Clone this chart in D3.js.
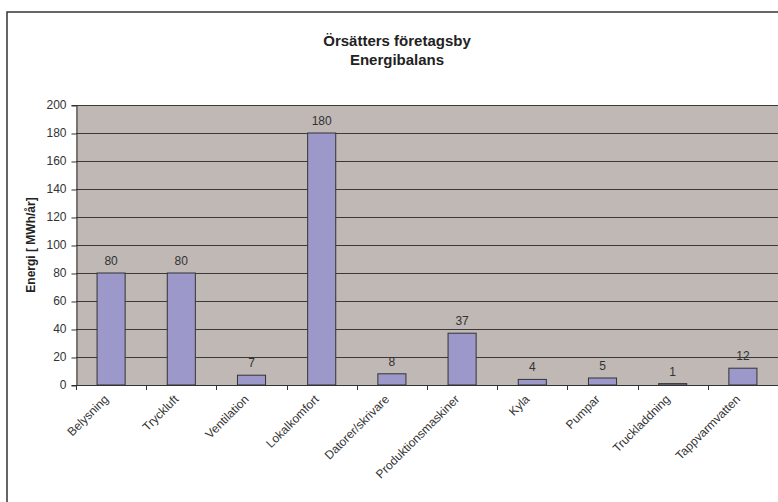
<!DOCTYPE html>
<html>
<head>
<meta charset="utf-8">
<script src="https://cdn.jsdelivr.net/npm/d3@7"></script>
<style>
  body { margin: 0; background: #fff; }
  svg { display: block; font-family: "Liberation Sans", Arial, sans-serif; }
  .tick text { fill: #333; font-size: 12px; }
</style>
</head>
<body>
<svg id="chart" width="778" height="502"></svg>
<script>
// Energy use per category (MWh/år)
const categories = ['Belysning', 'Tryckluft', 'Ventilation', 'Lokalkomfort', 'Datorer/skrivare',
  'Produktionsmaskiner', 'Kyla', 'Pumpar', 'Truckladdning', 'Tappvarmvatten'];
const values = [80, 80, 7, 180, 8, 37, 4, 5, 1, 12];
const yTicks = [0, 20, 40, 60, 80, 100, 120, 140, 160, 180, 200];
const titleLines = ['Örsätters företagsby', 'Energibalans'];
const yLabel = 'Energi [ MWh/år]';

const data = categories.map((c, i) => ({ category: c, value: values[i] }));

const margin = { left: 76, top: 105, right: 0, bottom: 117 };
const WIDTH = 778, HEIGHT = 502;

const svg = d3.select('#chart');

// chart area frame (runs off the right and bottom edges)
svg.append('rect')
  .attr('x', 7).attr('y', 12)
  .attr('width', 820).attr('height', 560)
  .attr('fill', '#fff')
  .attr('stroke', '#333')
  .attr('stroke-width', 1.5);

/*
 * Scales
 */
const scale = {};
scale.x = d3.scaleBand()
  .domain(categories)
  .range([margin.left, WIDTH - margin.right])
  .paddingInner(0.6)
  .paddingOuter(0.3);

// band edges for the tick marks between categories
const step = scale.x.step();
const bandStart = c => scale.x(c) - scale.x.paddingInner() * step / 2;

scale.y = d3.scaleLinear()
  .domain([0, 200])
  .range([HEIGHT - margin.bottom, margin.top]);

// plot background
svg.append('rect')
  .attr('x', margin.left)
  .attr('y', margin.top)
  .attr('width', WIDTH - margin.right - margin.left)
  .attr('height', scale.y(0) - margin.top)
  .attr('fill', '#c0b8b5');

// gridlines
svg.append('g')
  .selectAll('line')
  .data(yTicks.filter(t => t > 0))
  .join('line')
  .attr('x1', margin.left)
  .attr('x2', WIDTH - margin.right)
  .attr('y1', d => Math.round(scale.y(d)) + 0.5)
  .attr('y2', d => Math.round(scale.y(d)) + 0.5)
  .attr('stroke', '#3a3a3a')
  .attr('stroke-width', 1);

// bars
svg.append('g')
  .selectAll('rect')
  .data(data)
  .join('rect')
  .attr('x', d => scale.x(d.category))
  .attr('y', d => scale.y(d.value))
  .attr('width', scale.x.bandwidth())
  .attr('height', d => scale.y(0) - scale.y(d.value))
  .attr('fill', '#9c98c9')
  .attr('stroke', '#333')
  .attr('stroke-width', 1);

// value labels
svg.append('g')
  .selectAll('text')
  .data(data)
  .join('text')
  .attr('x', d => scale.x(d.category) + scale.x.bandwidth() / 2)
  .attr('y', d => scale.y(d.value) - 8)
  .attr('text-anchor', 'middle')
  .attr('font-size', 12)
  .attr('fill', '#333')
  .text(d => d.value);

/*
 * Axes
 */
const axisY = d3.axisLeft(scale.y)
  .tickValues(yTicks)
  .tickSize(5)
  .tickPadding(5);

svg.append('g')
  .attr('transform', `translate(${margin.left + 0.5}, 0)`)
  .call(axisY)
  .call(g => g.selectAll('line, path').attr('stroke', '#333'))
  .call(g => g.selectAll('.tick line').attr('transform', 'translate(0,0.5)'));

// x axis: line plus ticks at band boundaries
const xAxis = svg.append('g');
xAxis.append('line')
  .attr('x1', margin.left).attr('x2', WIDTH)
  .attr('y1', scale.y(0) + 0.5).attr('y2', scale.y(0) + 0.5)
  .attr('stroke', '#333');
xAxis.selectAll('line.tk')
  .data(categories)
  .join('line')
  .attr('class', 'tk')
  .attr('x1', d => Math.round(bandStart(d)) + 0.5)
  .attr('x2', d => Math.round(bandStart(d)) + 0.5)
  .attr('y1', scale.y(0))
  .attr('y2', scale.y(0) + 5)
  .attr('stroke', '#333');

xAxis.selectAll('text')
  .data(categories)
  .join('text')
  .attr('transform', d => {
    const cx = scale.x(d) + scale.x.bandwidth() / 2;
    return `translate(${cx - 2}, ${scale.y(0) + 15}) rotate(-45)`;
  })
  .attr('text-anchor', 'end')
  .attr('font-size', 12)
  .attr('fill', '#333')
  .text(d => d);

// title
svg.append('g')
  .selectAll('text')
  .data(titleLines)
  .join('text')
  .attr('x', 397)
  .attr('y', (d, i) => 46 + i * 19)
  .attr('text-anchor', 'middle')
  .attr('font-size', 15)
  .attr('font-weight', 'bold')
  .attr('fill', '#222')
  .text(d => d);

// y axis label
svg.append('text')
  .attr('transform', `translate(35, ${(margin.top + scale.y(0)) / 2}) rotate(-90)`)
  .attr('text-anchor', 'middle')
  .attr('font-size', 12)
  .attr('font-weight', 'bold')
  .attr('fill', '#222')
  .text(yLabel);
</script>
</body>
</html>
